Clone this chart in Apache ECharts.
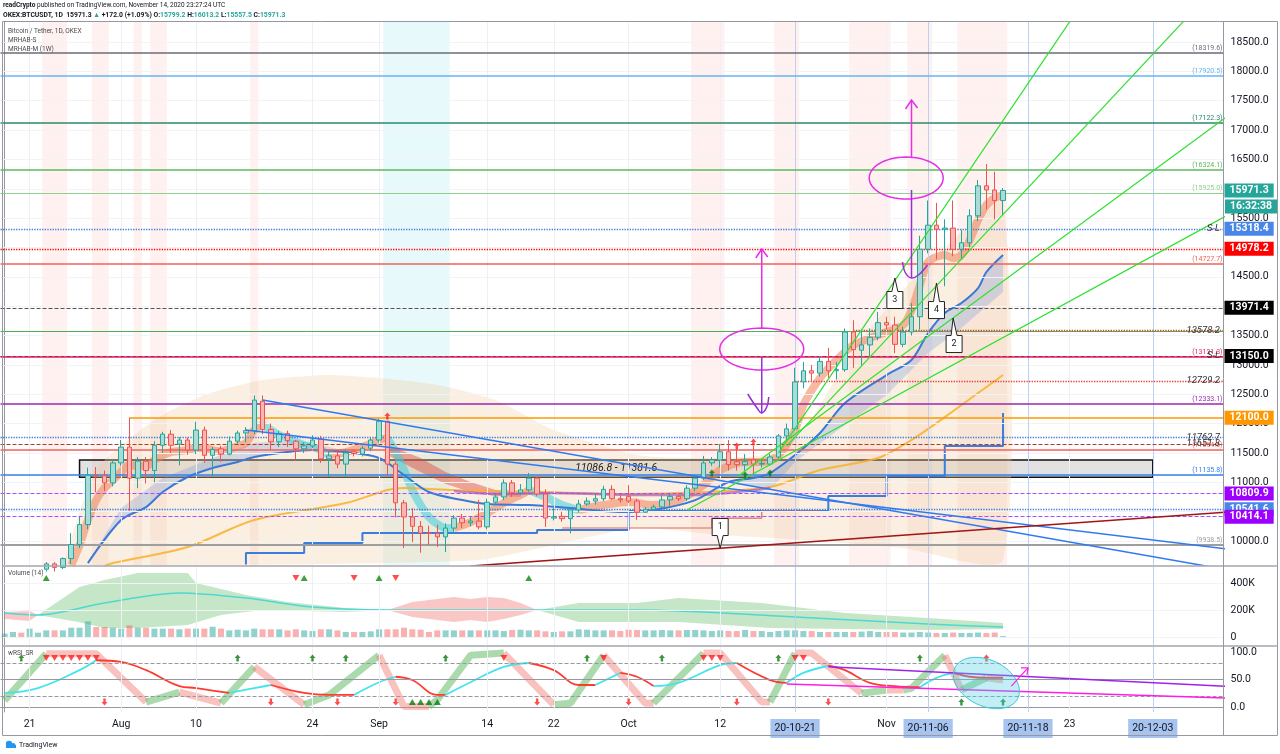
<!DOCTYPE html>
<html>
<head>
<meta charset="utf-8">
<script src="https://cdn.jsdelivr.net/npm/echarts@6/dist/echarts.min.js"></script>
<style>
html,body{margin:0;padding:0;background:#fff;}
#c{width:1280px;height:754px;}
</style>
</head>
<body>
<div id="c"></div>
<script>
// ================= DATA =================
const dayCount = 147; // Jul 18 .. Dec 11 (OKEX daily bars, UTC+8 labels)
// candles Jul 18 .. Nov 15
const opens = [9150,9170,9210,9160,9380,9520,9610,9550,9700,9940,
 10280,11120,11110,10990,11330,11600,11070,11360,11200,11630,
 11820,11650,11720,11550,11890,11460,11570,11480,11700,11840,
 11880,12380,11900,11690,11830,11700,11570,11620,11740,11400,
 11450,11310,11520,11480,11580,11720,12040,11310,10650,10410,
 10250,10135,10130,10070,10220,10390,10310,10340,10240,10660,
 10750,10990,10820,10870,11070,10800,10390,10420,10380,10530,
 10630,10680,10720,10880,10720,10760,10680,10490,10540,10580,
 10700,10760,10720,10900,11070,11330,11380,11520,11350,11300,
 11380,11310,11310,11430,11790,11910,12710,12900,12860,13060,
 12900,12920,13560,13250,13340,13470,13720,13680,13350,13560,
 13820,14970,15380,15310,15330,14970,15080,15540,16050,15980,
 15799.2];
const closes = [9170,9210,9160,9380,9520,9610,9550,9700,9940,10280,
 11120,11110,10990,11330,11600,11070,11360,11200,11630,11820,
 11630,11720,11550,11890,11460,11560,11480,11700,11840,11880,
 12400,11900,11690,11830,11710,11570,11620,11720,11400,11450,
 11310,11500,11490,11580,11720,12040,11310,10650,10410,10250,
 10135,10130,10070,10220,10390,10310,10340,10240,10660,10750,
 10990,10820,10870,11070,10800,10390,10410,10380,10530,10630,
 10680,10720,10880,10720,10700,10680,10490,10540,10580,10700,
 10760,10720,10900,11070,11330,11380,11520,11300,11300,11350,
 11310,11320,11430,11790,11910,12710,12900,12860,13060,12900,
 12920,13560,13260,13340,13470,13720,13680,13350,13560,13820,
 14970,15380,15310,15330,14970,15080,15540,16050,15980,15799.3,
 15971.3];
const lows = [9090,9110,9130,9150,9290,9480,9480,9520,9610,9880,
 10200,10830,10850,10930,11280,10510,10900,10980,11000,11500,
 11500,11290,11470,11480,11330,11100,11350,11460,11660,11680,
 11820,11820,11560,11600,11600,11370,11500,11580,11330,11090,
 11240,11090,11440,11440,11530,11680,11120,10400,9880,9980,
 9800,9930,9900,9810,10130,10220,10250,10200,10200,10620,
 10700,10750,10780,10840,10760,10240,10350,10330,10130,10480,
 10600,10620,10680,10700,10650,10650,10360,10480,10510,10560,
 10600,10680,10680,10850,11040,11280,11250,11200,11200,11200,
 11150,11250,11280,11400,11700,11880,12600,12720,12800,12780,
 12750,12880,12950,13000,13150,13420,13600,13200,13300,13500,
 13600,14900,14800,14340,14850,14790,15000,15450,15650,15480,
 15557.5];
const highs = [9220,9240,9230,9420,9540,9640,9640,9720,10135,10410,
 11250,11260,11200,11380,11720,12100,11430,11430,11700,11860,
 11890,11770,11760,12030,11950,11600,11620,11780,11880,11940,
 12480,12480,12000,11870,11880,11720,11680,11800,11790,11530,
 11550,11560,11560,11620,11760,12080,12050,11360,10700,10560,
 10340,10260,10280,10300,10440,10460,10420,10700,10720,10800,
 11050,11040,10970,11160,11100,10880,10560,10500,10580,10700,
 10740,10790,10940,10950,10790,10950,10720,10580,10620,10780,
 10800,10800,10950,11120,11450,11430,11650,11720,11560,11480,
 11620,11380,11480,11820,12000,12950,13050,13000,13150,13290,
 13050,13620,13760,13600,13620,13900,13820,13820,13650,14050,
 15200,15800,15760,15480,15800,15300,15650,16150,16420,16290,
 16013.2];
const volumesK = [25,37,32,62,32,49,49,49,69,69,116,74,74,69,
 62,86,69,69,62,62,62,57,62,62,62,76,62,49,54,49,62,57,57,57,49,57,49,44,57,57,49,37,37,37,42,
 57,57,57,69,57,54,37,49,49,49,49,49,49,49,49,44,52,54,49,49,42,37,42,42,57,54,49,49,49,44,
 54,52,49,49,52,49,49,52,52,49,44,49,44,44,52,44,44,37,44,49,49,44,44,37,37,37,37,37,40,44,37,
 37,37,33,33,37,33,30,30,33,30,30,33,30,33,7];

const xTickLabels = {'7-21':'21','8-1':'Aug','8-10':'10','8-24':'24','9-1':'Sep','9-14':'14','9-22':'22','10-1':'Oct','10-12':'12','11-1':'Nov','11-23':'23'};
const xHighlightLabels = {'10-21':'20-10-21','11-6':'20-11-06','11-18':'20-11-18','12-3':'20-12-03'};
const priceTicks = [10000,11000,11500,12000,12500,13000,13500,14500,15500,16500,17000,17500,18000,18500];
const priceGrid = [10000,10500,11000,11500,12000,12500,13000,13500,14000,14500,15000,15500,16000,16500,17000,17500,18000,18500];
const volTicks = [0,200,400];
const rsiTicks = [0,50,100];

// horizontal levels
const levelPrices = [18319.6,17920.5,17122.3,16324.1,15925.0,15318.4,14978.2,14727.7,13971.4,13578.2,13590.0,13150.0,13131.3,12729.2,12333.1,12100.0,11762.7,11651.8,11554.6,11135.8,10809.9,10541.6,10414.1,9938.5];
const levelFrom   = [null,null,null,null,null,null,null,null,null,null,'10-28',null,null,'10-21',null,'8-2',null,null,null,null,null,null,null,null];
const lastPrice = 15971.3;
const countdownText = '16:32:38';
const zoneLow = 11086.8, zoneHigh = 11381.6, zoneFrom = '7-27', zoneTo = '12-3';

// trend lines [date, price]
const blueTrendA = [['8-18',12401],['12-12',9509]];
const blueTrendB = [['8-16',11890],['12-12',9863]];
const redTrend   = [['9-12',9573],['12-12',10493]];
const fanLines = [
 [['10-19',11498],['11-24',19053]],
 [['10-20',11617],['12-12',19658]],
 [['10-14',11090],['12-12',17239]],
 [['10-8',10527],['12-12',15553]]
];

// indicator curves on price pane
const ribbonUp = [
 [['7-26',9590],['7-27',9931],['7-28',10357],['7-29',10697],['7-30',10902],['7-31',11039],['8-1',11175],['8-2',11294],['8-3',11277],['8-4',11277],['8-5',11379],['8-6',11464],['8-7',11515],['8-8',11532],['8-9',11549],['8-10',11584],['8-11',11584],['8-12',11549],['8-13',11532],['8-14',11567],['8-15',11618],['8-16',11669],['8-17',11890],['8-18',11975]],
 [['8-26',11464],['8-28',11515],['8-30',11601],['9-1',11720],['9-2',11754]],
 [['9-10',10221],['9-12',10323],['9-14',10476],['9-16',10646],['9-18',10783],['9-19',10868]],
 [['9-25',10527],['9-28',10612],['10-1',10663],['10-4',10612],['10-7',10697],['10-10',10953],['10-12',11209],['10-15',11345],['10-17',11345],['10-19',11464],['10-21',11890],['10-22',12316],['10-24',12776],['10-26',13083],['10-28',13338],['10-30',13457],['11-1',13560],['11-3',13679],['11-4',13934],['11-5',14360],['11-6',14752],['11-8',14871],['11-9',14820],['11-10',14871],['11-11',15126],['11-12',15467],['11-13',15723],['11-14',15842],['11-15',15894]]
];
const ribbonDown = [
 [['8-18',11975],['8-19',11890],['8-20',11805],['8-21',11754],['8-22',11686],['8-23',11635],['8-24',11601],['8-25',11549],['8-26',11464]],
 [['9-2',11754],['9-3',11515],['9-4',11209],['9-5',10868],['9-6',10612],['9-7',10408],['9-8',10289],['9-9',10221],['9-10',10221]],
 [['9-19',10868],['9-21',10749],['9-23',10612],['9-25',10527]]
];
const blueMA = [['7-28',9624],['8-1',10357],['8-4',10578],['8-6',10834],['8-9',11090],['8-12',11243],['8-15',11345],['8-17',11430],['8-21',11515],['8-24',11549],['8-28',11515],['9-1',11414],['9-4',11124],['9-7',10834],['9-11',10697],['9-14',10629],['9-19',10612],['9-24',10561],['9-30',10493],['10-4',10527],['10-9',10697],['10-13',11005],['10-16',11073],['10-18',11158],['10-21',11464],['10-24',11839],['10-27',12350],['11-1',12827],['11-4',13083],['11-6',13543],['11-8',13883],['11-10',14054],['11-12',14309],['11-13',14582],['11-15',14871]];
const blueBandLeftUpper = [['7-28',9624],['8-1',10561],['8-6',11073],['8-12',11414],['8-17',11669],['8-22',11720],['8-26',11601],['8-31',11430]];
const blueBandLeftLower = [['7-28',9624],['8-1',10357],['8-4',10578],['8-6',10834],['8-9',11090],['8-12',11243],['8-15',11345],['8-17',11430],['8-21',11515],['8-24',11549],['8-28',11515],['8-31',11430]];
const blueBandRightUpper = [['10-13',11005],['10-16',11073],['10-18',11158],['10-21',11464],['10-24',11839],['10-27',12350],['11-1',12827],['11-4',13083],['11-6',13543],['11-8',13883],['11-10',14054],['11-12',14309],['11-13',14582],['11-15',14871]];
const blueBandRightLower = [['10-13',11005],['10-18',10868],['10-21',11345],['10-27',11975],['11-1',12486],['11-6',13202],['11-10',13628],['11-15',14241]];
const orangeMA = [['7-30',9573],['7-31',9624],['8-9',9897],['8-17',10357],['8-28',10646],['9-2',10868],['9-4',10902],['9-10',10868],['9-20',10834],['10-1',10800],['10-10',10834],['10-18',10919],['10-24',11209],['10-31',11414],['11-4',11720],['11-8',12111],['11-12',12520],['11-15',12827]];
const purpleMA = [['9-10',10851],['9-15',10800],['9-22',10817],['10-2',10783],['10-9',10783],['10-18',10902]];
const redBandUpper = [['9-2',11635],['9-6',11414],['9-9',11175],['9-12',11005],['9-15',10868],['9-18',10800]];
const redBandLower = [['9-2',11464],['9-6',11175],['9-9',10970],['9-12',10834],['9-15',10766],['9-18',10749]];
const blueStep = [['8-16',9600],['8-16',9795],['8-23',9795],['8-23',9966],['8-30',9966],['8-30',10135],['9-20',10135],['9-20',10187],['10-1',10187],['10-1',10510],['10-25',10510],['10-25',10765],['11-1',10765],['11-1',11107],['11-8',11107],['11-8',11618],['11-15',11618],['11-15',12180]];
const redStep = [['9-23',10221],['10-11',10221],['10-11',10391],['10-17',10391],['10-17',10510],['10-24',10510]];
const cloudUpper = [['7-25',9590],['7-29',11209],['8-5',12061],['8-11',12486],['8-18',12742],['8-26',12827],['9-1',12776],['9-8',12657],['9-15',12401],['9-22',11890],['10-2',11464],['10-9',11414],['10-17',11464],['10-22',11890],['10-28',13253],['11-3',14275],['11-9',15126],['11-15',15808]];
const cloudLower = [['7-25',9590],['8-18',9595],['9-13',9676],['9-22',9931],['10-2',10221],['10-12',10102],['10-22',10017],['11-3',9880],['11-15',9676]];
const pinkBands = [['7-23','7-25'],['7-29','7-30'],['8-3','8-3'],['8-5','8-6'],['8-17','8-17'],['10-9','10-12'],['10-19','10-21'],['10-28','11-1'],['11-4','11-6'],['11-10','11-15']];
const cyanBands = [['9-2','9-9']];
const rangeDates = ['10-21','11-6','11-18','12-3'];
const mainRedPins = [['9-2',12129],['10-14',11618],['10-16',11686]];
const mainGreenPins = [['10-11',11158],['10-15',11124],['10-18',11158]];

// volume pane (K)
const volMA = [['7-18',178],['7-22',163],['7-30',252],['8-8',326],['8-16',289],['8-24',222],['9-2',200],['10-2',200],['10-21',148],['11-6',96],['11-15',74]];
const volBands = [
 {kind:'down', up:[['7-18',185],['7-21',193],['7-22',163]], lo:[['7-18',133],['7-21',118],['7-22',163]]},
 {kind:'up', up:[['7-22',163],['7-27',370],['7-30',422],['8-3',474],['8-9',474],['8-10',400],['8-16',311],['8-21',259],['8-28',215],['9-2',200]], lo:[['7-22',163],['7-27',110],['7-30',67],['8-3',67],['8-9',89],['8-13',163],['8-18',200],['8-28',185],['9-2',200]]},
 {kind:'down', up:[['9-2',200],['9-5',259],['9-8',281],['9-10',296],['9-12',281],['9-14',296],['9-16',289],['9-18',252],['9-20',200]], lo:[['9-2',200],['9-5',148],['9-8',126],['9-10',111],['9-12',126],['9-14',111],['9-16',133],['9-18',163],['9-20',200]]},
 {kind:'up', up:[['9-20',200],['9-25',252],['10-2',252],['10-7',289],['10-17',252],['10-27',178],['11-6',141],['11-15',104]], lo:[['9-20',200],['9-25',111],['10-2',111],['10-7',111],['10-18',67],['11-6',52],['11-15',59]]}
];
const volUpMarks = ['7-23','8-23','9-1','9-19'];
const volDownMarks = ['8-22','8-29','9-3'];

// wRSI pane
const rsiFast = [['7-18',12],['7-23',97],['7-29',97],['8-4',9],['8-8',27],['8-13',7],['8-17',73],['8-23',4],['8-26',22],['9-1',94],['9-4',1],['9-7',1],['9-8',13],['9-12',94],['9-16',98],['9-22',4],['9-24',7],['9-28',94],['10-3',7],['10-4',7],['10-10',98],['10-12',98],['10-17',9],['10-18',9],['10-21',98],['10-23',98],['10-29',25],['11-1',31],['11-3',31],['11-4',34],['11-8',94],['11-10',31],['11-13',53],['11-15',49]];
const rsiSlow = [['7-18',25.5],['7-22',34.5],['7-27',67],['7-29',85],['8-1',82],['8-4',67],['8-8',38],['8-10',34.5],['8-14',25.5],['8-17',34.5],['8-19',40],['8-23',25.5],['8-26',22],['8-29',22],['9-1',45],['9-3',55],['9-5',49],['9-8',22],['9-9',22],['9-12',45],['9-16',73],['9-19',80],['9-22',67],['9-25',40],['9-27',40],['9-30',62],['10-2',55],['10-4',38],['10-7',44],['10-12',76],['10-14',80],['10-18',49],['10-20',44],['10-22',62],['10-25',75],['10-27',67],['10-30',44],['11-2',38],['11-5',36],['11-7',53],['11-9',62],['11-11',55],['11-13',53],['11-15',53]];
const rsiLevels = [80, 50, 20];
const rsiPurpleTrend = [['10-25',73],['12-12',37.6]];
const rsiMagentaTrend = [['10-20',41.8],['12-12',16.2]];
const rsiGreenPinsTop = ['7-20','8-15','8-24','8-28','9-9','9-26','10-5','10-19','11-5'];
const rsiRedTrianglesTop = ['7-23','7-24','7-25','7-26','7-27','7-28','7-29','9-16','9-28','10-10','10-11','10-12','10-21','10-22'];
const rsiRedPinsTop = ['11-13'];
const rsiRedPinsBottom = ['7-30','8-19','8-27','9-3','9-20','10-1','10-14','10-25'];
const rsiGreenTrianglesBottom = ['9-5','9-6','9-7','9-8'];
const rsiGreenPinsBottom = ['11-10','11-15'];

// annotations (data anchored)
const annEllipses = [['10-17',13270],['11-3',16183]];
const annUpArrows = [['10-17',13628,14974],['11-4',16541,17512]];
const annDownArrows = [['10-17',13134,12180],['11-4',15979,14480]];
const callouts = [['1','10-12',9880],['2','11-9',13798],['3','11-2',14480],['4','11-7',14394]];
const rsiEllipse = ['11-13',43.6];
const rsiArrow = [['11-16',38],['11-18',71]];

// ================= HELPERS =================
const FONT = 'Roboto, "Liberation Sans", sans-serif';
const D0 = Date.UTC(2020,6,18);
function di(s){ const p = s.split('-').map(Number); return Math.round((Date.UTC(2020,p[0]-1,p[1]) - D0)/864e5); }
const categories = [];
for (let i=0;i<dayCount;i++){ const t = new Date(D0 + i*864e5); categories.push((t.getUTCMonth()+1)+'-'+t.getUTCDate()); }
const P = pts => pts.map(p => [di(p[0]), p[1]]);

function lineS(xi, yi, pts, color, width, z, extra){
  return Object.assign({type:'line', xAxisIndex:xi, yAxisIndex:yi, data:P(pts), symbol:'none', silent:true,
    lineStyle:{color:color, width:width}, z:z}, extra||{});
}
function polyS(xi, yi, upper, lower, fill, z, smooth){
  return {type:'custom', xAxisIndex:xi, yAxisIndex:yi, z:z, silent:true, data:[[0,0]],
    renderItem:function(params, api){
      const a = upper.map(p => api.coord([di(p[0]), p[1]]));
      const b = lower.map(p => api.coord([di(p[0]), p[1]])).reverse();
      return {type:'polygon', shape:{points:a.concat(b), smooth:smooth||0}, style:{fill:fill}};
    }};
}
function runs(pts){
  const out=[]; let cur=[pts[0]], dir=null;
  for (let i=1;i<pts.length;i++){
    const d = pts[i][1] > pts[i-1][1] ? 1 : -1;
    if (dir===null || d===dir){ cur.push(pts[i]); dir=d; }
    else { out.push({dir:dir, pts:cur}); cur=[pts[i-1], pts[i]]; dir=d; }
  }
  out.push({dir:dir, pts:cur});
  return out;
}
const upArrowPath = 'path://M5,0 L10,5 L7,5 L7,10 L3,10 L3,5 L0,5 Z';
function marks(xi, yi, dates, val, symbol, color, size, rot, z){
  return {type:'scatter', xAxisIndex:xi, yAxisIndex:yi, silent:true, z:z||9,
    data:dates.map(d => Array.isArray(d) ? [di(d[0]), d[1]] : [di(d), val]),
    symbol:symbol, symbolSize:size, symbolRotate:rot||0, itemStyle:{color:color}};
}

// ================= OPTION =================
const levelStyles = [
 {c:'#6a6d78', w:1.5, t:'solid', m:'paren'},
 {c:'#64b5f6', w:1.5, t:'solid', m:'paren'},
 {c:'#2a8a6e', w:1.5, t:'solid', m:'paren'},
 {c:'#5cb85c', w:1.5, t:'solid', m:'paren'},
 {c:'#8fd18f', w:1, t:'solid', m:'paren'},
 {c:'#3d7be0', w:1.3, t:'dotted', m:'tag', bg:'#4a86e8'},
 {c:'#ff0000', w:1.3, t:'dotted', m:'tag', bg:'#ff0000'},
 {c:'#f0625a', w:1.5, t:'solid', m:'paren'},
 {c:'#555555', w:1, t:'dashed', m:'tag', bg:'#000000'},
 {c:'#4caf50', w:1, t:'solid', m:'text'},
 {c:'#e53935', w:1.3, t:'dotted', m:'none'},
 {c:'#222222', w:1, t:'dashed', m:'tag', bg:'#000000'},
 {c:'#e91e63', w:1.5, t:'solid', m:'paren'},
 {c:'#e53935', w:1.3, t:'dotted', m:'text'},
 {c:'#9c27b0', w:1.5, t:'solid', m:'paren'},
 {c:'#ff9800', w:1.5, t:'solid', m:'tag', bg:'#ff9800'},
 {c:'#3d7be0', w:1.3, t:'dotted', m:'text'},
 {c:'#b03a2e', w:1, t:'dashed', m:'text'},
 {c:'#f0625a', w:1.5, t:'solid', m:'paren'},
 {c:'#2f80ed', w:1.5, t:'solid', m:'paren'},
 {c:'#a64dff', w:1, t:'dashed', m:'tag', bg:'#9d00ff'},
 {c:'#3d7be0', w:1.3, t:'dotted', m:'tag', bg:'#4a86e8'},
 {c:'#a64dff', w:1, t:'dashed', m:'tag', bg:'#9d00ff'},
 {c:'#9e9e9e', w:2, t:'solid', m:'paren'}
];
const tagLabel = (txt, bg) => ({show:true, position:'end', formatter:txt, color:'#fff', backgroundColor:bg,
  padding:[2,5,1,5], fontSize:10.5, fontWeight:'bold', distance:1, fontFamily:FONT});

const levelML = levelPrices.map((v,i) => {
  const s = levelStyles[i];
  const ls = {color:s.c, width:s.w, type:s.t};
  let label = {show:false};
  if (s.m==='paren') label = {show:true, position:'insideEndTop', formatter:'('+v.toFixed(1)+')', color:s.c, fontSize:7, distance:1, fontFamily:FONT};
  if (s.m==='tag') label = tagLabel(v.toFixed(1), s.bg);
  if (levelFrom[i]) return [{coord:[di(levelFrom[i]), v], lineStyle:ls, label:label}, {coord:[146.5, v]}];
  return {yAxis:v, lineStyle:ls, label:label};
});
levelML.push({yAxis:lastPrice, lineStyle:{color:'rgba(0,0,0,0)', width:0.1}, label:tagLabel(lastPrice.toFixed(1), '#26a69a')});

const gridDates = Object.keys(xTickLabels);
const vGrid = gridDates.map(d => ({xAxis:di(d), lineStyle:{color:'#eef0f5', width:1, type:'solid'}}))
  .concat(rangeDates.map(d => ({xAxis:di(d), lineStyle:{color:'#bcd0f2', width:1, type:'solid'}})));

const series = [];
// background bands & grid
series.push({id:'anchor0', type:'line', xAxisIndex:3, yAxisIndex:0, data:[], z:0, silent:true,
  markArea:{silent:true, data: pinkBands.map(b => [{xAxis:di(b[0])-0.5, itemStyle:{color:'rgba(244,67,54,0.075)'}}, {xAxis:di(b[1])+0.5}])
    .concat(cyanBands.map(b => [{xAxis:di(b[0])-0.5, itemStyle:{color:'rgba(0,188,212,0.09)'}}, {xAxis:di(b[1])+0.5}]))},
  markLine:{silent:true, symbol:['none','none'], label:{show:false},
    data: priceGrid.map(v => ({yAxis:v, lineStyle:{color:'#f1f3f7', width:1, type:'solid'}})).concat(vGrid)}
});
series.push(polyS(3,0, cloudUpper, cloudLower, 'rgba(240,205,160,0.32)', 1, 0.2));
series.push(polyS(3,0, blueBandLeftUpper, blueBandLeftLower, 'rgba(90,140,220,0.25)', 2));
series.push(polyS(3,0, blueBandRightUpper, blueBandRightLower, 'rgba(90,140,220,0.25)', 2));
series.push(polyS(3,0, redBandUpper, redBandLower, 'rgba(225,70,60,0.45)', 2));
ribbonUp.forEach(r => series.push(lineS(3,0, r, 'rgba(238,130,90,0.55)', 8, 3, {smooth:0.3})));
ribbonDown.forEach(r => series.push(lineS(3,0, r, 'rgba(60,205,220,0.55)', 8, 3, {smooth:0.3})));
series.push(lineS(3,0, orangeMA, 'rgba(248,176,40,0.85)', 2, 3, {smooth:0.3}));
series.push(lineS(3,0, purpleMA, 'rgba(171,90,190,0.7)', 2.5, 3, {smooth:0.3}));
series.push(lineS(3,0, blueMA, '#3b78d8', 2, 4, {smooth:0.3}));
series.push(lineS(3,0, blueStep, '#3b7ddd', 2, 4));
series.push(lineS(3,0, redStep, '#e06666', 1.2, 4));
// candles
series.push({type:'candlestick', xAxisIndex:0, yAxisIndex:0, z:5, silent:true, barWidth:5,
  data: opens.map((o,i) => [o, closes[i], lows[i], highs[i]]),
  itemStyle:{color:'#a9dcd6', color0:'#f8b6b4', borderColor:'#26a69a', borderColor0:'#ef5350', borderWidth:1}});
// zone box
series.push({type:'line', xAxisIndex:3, yAxisIndex:0, data:[], z:6, silent:true,
  markArea:{silent:true, data:[[{coord:[di(zoneFrom), zoneHigh], itemStyle:{color:'rgba(150,150,150,0.28)', borderColor:'#111', borderWidth:1.5},
     label:{show:true, position:'inside', formatter: zoneLow.toFixed(1)+' - '+zoneHigh.toFixed(1), fontStyle:'italic', fontSize:10.5, color:'#222', fontFamily:FONT}},
    {coord:[di(zoneTo), zoneLow]}]]}});
// levels
series.push({type:'line', xAxisIndex:3, yAxisIndex:0, data:[], z:7, silent:true,
  markLine:{silent:true, symbol:['none','none'], data:levelML}});
// trend lines
series.push(lineS(3,0, blueTrendA, '#3179f0', 1.5, 7));
series.push(lineS(3,0, blueTrendB, '#3179f0', 1.5, 7));
series.push(lineS(3,0, redTrend, '#a31515', 1.5, 7));
fanLines.forEach(f => series.push(lineS(3,0, f, '#2ee02e', 1.2, 7)));
series.push(marks(3,0, mainRedPins, 0, upArrowPath, '#ff1f1f', [6,7]));
series.push(marks(3,0, mainGreenPins, 0, upArrowPath, '#0a7a0a', [6,7]));

// ---- volume pane ----
series.push({id:'anchor1', type:'line', xAxisIndex:4, yAxisIndex:1, data:[], silent:true,
  markLine:{silent:true, symbol:['none','none'], label:{show:false},
   data: volTicks.map(v => ({yAxis:v, lineStyle:{color:'#f1f3f7', width:1, type:'solid'}})).concat(vGrid)}});
volBands.forEach(b => series.push(polyS(4,1, b.up, b.lo, b.kind==='up' ? 'rgba(129,199,132,0.45)' : 'rgba(244,130,130,0.45)', 2)));
series.push({type:'bar', xAxisIndex:1, yAxisIndex:1, barWidth:6, silent:true, z:3,
  data: volumesK.map((v,i) => ({value:v, itemStyle:{color: closes[i]>=opens[i] ? 'rgba(38,166,154,0.5)' : 'rgba(239,83,80,0.45)'}}))});
series.push(lineS(4,1, volMA, '#4dd9d0', 1.5, 4, {smooth:0.3}));
series.push(marks(4,1, volUpMarks, 437, 'triangle', '#0a8a0a', [7,6]));
series.push(marks(4,1, volDownMarks, 437, 'triangle', '#ff1f1f', [7,6], 180));

// ---- wRSI pane ----
series.push({id:'anchor2', type:'line', xAxisIndex:5, yAxisIndex:2, data:[], silent:true,
  markLine:{silent:true, symbol:['none','none'], label:{show:false},
   data: rsiLevels.map(v => ({yAxis:v, lineStyle:{color:'#9598a1', width:1, type: v===50 ? 'solid' : 'dashed'}})).concat(vGrid)}});
runs(rsiFast).forEach(r => series.push(lineS(5,2, r.pts, r.dir>0 ? 'rgba(102,187,106,0.55)' : 'rgba(244,120,110,0.45)', 7, 3)));
runs(rsiSlow).forEach(r => series.push(lineS(5,2, r.pts, r.dir>0 ? '#44e4ee' : '#ff3b30', 1.8, 4, {smooth:0.4})));
series.push(lineS(5,2, rsiPurpleTrend, '#a020f0', 1.5, 5));
series.push(lineS(5,2, rsiMagentaTrend, '#ff1ee6', 1.5, 5));
series.push(marks(5,2, rsiGreenPinsTop, 89, upArrowPath, '#0a7a0a', [6,7]));
series.push(marks(5,2, rsiRedTrianglesTop, 89, 'triangle', '#ff1f1f', [7,6], 180));
series.push(marks(5,2, rsiRedPinsTop, 89, upArrowPath, '#ff1f1f', [6,7]));
series.push(marks(5,2, rsiRedPinsBottom, 9, upArrowPath, '#ff1f1f', [6,7], 180));
series.push(marks(5,2, rsiGreenTrianglesBottom, 9, 'triangle', '#0a7a0a', [7,6]));
series.push(marks(5,2, rsiGreenPinsBottom, 9, upArrowPath, '#0a7a0a', [6,7]));

const catAxis = (gi, show) => ({type:'category', gridIndex:gi, data:categories, boundaryGap:true,
  axisLine:{show:show, lineStyle:{color:'#9598a1'}}, axisTick:{show:false}, splitLine:{show:false},
  axisLabel: show ? {
    interval:(i, v) => (v in xTickLabels) || (v in xHighlightLabels),
    formatter: v => xHighlightLabels[v] ? '{hl|'+xHighlightLabels[v]+'}' : xTickLabels[v],
    color:'#131722', fontSize:10.5, margin:7, fontFamily:FONT,
    rich:{hl:{backgroundColor:'#a7c3ef', padding:[4,4,4,4], color:'#131722', fontSize:10.5, fontFamily:FONT}}
  } : {show:false}});
const valX = gi => ({type:'value', gridIndex:gi, min:-0.5, max:146.5, show:false});
const yAx = (gi, min, max, ticks, fmt) => ({type:'value', gridIndex:gi, position:'right', min:min, max:max,
  axisLine:{show:true, lineStyle:{color:'#9598a1'}}, axisTick:{show:false}, splitLine:{show:false},
  axisLabel:{customValues:ticks, formatter:fmt, color:'#131722', fontSize:10.5, margin:7, fontFamily:FONT}});

const option = {
  animation:false,
  backgroundColor:'#ffffff',
  textStyle:{fontFamily:FONT},
  grid:[{left:0.5, right:56.5, top:22, height:543},{left:0.5, right:56.5, top:567, height:78},{left:0.5, right:56.5, top:647, height:65}],
  xAxis:[catAxis(0,false), catAxis(1,false), catAxis(2,true), valX(0), valX(1), valX(2)],
  yAxis:[
    yAx(0, 9591, 18841, priceTicks, v => v.toFixed(1)),
    yAx(1, -59.3, 518.5, volTicks, v => v===0 ? '0' : v+'K'),
    yAx(2, -9.1, 109.1, rsiTicks, v => v.toFixed(1))
  ],
  series:series
};

const chart = echarts.init(document.getElementById('c'));
chart.setOption(option);

// ================= GRAPHICS / ANNOTATIONS =================
function px(pane, d, v){ return chart.convertToPixel({seriesId:'anchor'+pane}, [di(d), v]); }
function ellipsePts(cx, cy, rx, ry, rot){
  const pts=[]; for (let k=0;k<60;k++){ const t=k/60*2*Math.PI; const x=rx*Math.cos(t), y=ry*Math.sin(t);
    pts.push([cx + x*Math.cos(rot) - y*Math.sin(rot), cy + x*Math.sin(rot) + y*Math.cos(rot)]); } return pts;
}
const G = [];
const txt = (x, y, text, opt) => G.push({type:'text', x:x, y:y, z:60, silent:true,
  style:Object.assign({text:text, fill:'#131722', fontSize:6.5, fontFamily:FONT, verticalAlign:'middle', align:'left'}, opt||{})});
// header
G.push({type:'text', x:3, y:5, z:60, style:{text:'{b|readCrypto}{n| published on TradingView.com, November 14, 2020 23:27:24 UTC}', verticalAlign:'middle',
  rich:{b:{fontWeight:'bold', fontSize:6.5, fontFamily:FONT, fill:'#131722'}, n:{fontSize:6.5, fontFamily:FONT, fill:'#131722'}}}});
G.push({type:'text', x:3, y:15, z:60, style:{text:'{b|OKEX:BTCUSDT, 1D  15971.3 }{g|▲}{b| +172.0 (+1.09%) O:}{g|15799.2}{b| H:}{g|16013.2}{b| L:}{g|15557.5}{b| C:}{g|15971.3}', verticalAlign:'middle',
  rich:{b:{fontWeight:'bold', fontSize:6.8, fontFamily:FONT, fill:'#131722'}, g:{fontWeight:'bold', fontSize:6.8, fontFamily:FONT, fill:'#26a69a'}}}});
txt(8, 31, 'Bitcoin / Tether, 1D, OKEX', {fill:'#4a4a4a'});
txt(8, 40, 'MRHAB-S', {fill:'#4a4a4a'});
txt(8, 49, 'MRHAB-M (1W)', {fill:'#4a4a4a'});
txt(8, 573, 'Volume (14)', {fill:'#4a4a4a'});
txt(8, 653, 'wRSI_SR', {fill:'#4a4a4a'});
// frame
G.push({type:'rect', z:55, silent:true, shape:{x:2.5, y:21.5, width:1275, height:714}, style:{fill:'none', stroke:'#9598a1', lineWidth:1}});
G.push({type:'line', z:55, silent:true, shape:{x1:2.5, y1:566, x2:1277.5, y2:566}, style:{stroke:'#a3a6ae', lineWidth:1.5}});
G.push({type:'line', z:55, silent:true, shape:{x1:2.5, y1:646, x2:1277.5, y2:646}, style:{stroke:'#a3a6ae', lineWidth:1.5}});
G.push({type:'line', z:55, silent:true, shape:{x1:1223.5, y1:21.5, x2:1223.5, y2:735.5}, style:{stroke:'#9598a1', lineWidth:1}});
// logo
G.push({type:'circle', z:60, shape:{cx:9, cy:744, r:3.2}, style:{fill:'#2196f3'}});
G.push({type:'circle', z:60, shape:{cx:13, cy:745.5, r:2.5}, style:{fill:'#2196f3'}});
G.push({type:'rect', z:60, shape:{x:6, y:745, width:10, height:3}, style:{fill:'#2196f3'}});
txt(19, 745, 'TradingView', {fontSize:7, fill:'#131722'});

// text labels on levels
levelPrices.forEach((v,i) => {
  if (levelStyles[i].m === 'text'){ const p = px(0, '12-11', v); txt(1220, p[1], v.toFixed(1), {align:'right', fontStyle:'italic', fontSize:9.5, fill:'#333'}); }
});
[15318.4, 13150.0].forEach(v => { const p = px(0,'12-11',v); txt(1220, p[1], 'S-L', {align:'right', fontStyle:'italic', fontSize:9.5, fill:'#333'}); });
// countdown tag
{ const p = px(0,'12-11', lastPrice); G.push({type:'text', x:1225, y:p[1]+16, z:60, style:{text:countdownText, fill:'#fff', fontSize:10.5, fontWeight:'bold', fontFamily:FONT,
   backgroundColor:'#26a69a', padding:[2,5,1,5], verticalAlign:'middle'}}); }

// magenta ellipses
const ellSize = [[42,21],[37,21]];
annEllipses.forEach((e,k) => { const c = px(0, e[0], e[1]); G.push({type:'polygon', z:62, silent:true,
  shape:{points:ellipsePts(c[0]+ (k===1?3:0), c[1], ellSize[k][0], ellSize[k][1], 0)}, style:{fill:'none', stroke:'#e62ee6', lineWidth:1.5}}); });
annUpArrows.forEach(a => { const p1 = px(0, a[0], a[1]), p2 = px(0, a[0], a[2]);
  G.push({type:'polyline', z:62, silent:true, shape:{points:[p1,p2]}, style:{stroke:'#e62ee6', lineWidth:1.5, fill:'none'}});
  G.push({type:'polyline', z:62, silent:true, shape:{points:[[p2[0]-6,p2[1]+9],[p2[0],p2[1]],[p2[0]+6,p2[1]+8]]}, style:{stroke:'#e62ee6', lineWidth:1.5, fill:'none'}}); });
annDownArrows.forEach((a,k) => { const p1 = px(0, a[0], a[1]), p2 = px(0, a[0], a[2]);
  G.push({type:'polyline', z:62, silent:true, shape:{points:[p1,p2]}, style:{stroke:'#9a2ed6', lineWidth:1.5, fill:'none'}});
  const hook = k===0 ? [[p2[0]-14,p2[1]-19],[p2[0]-4,p2[1]-4],[p2[0],p2[1]],[p2[0]+5,p2[1]-6],[p2[0]+7,p2[1]-16]]
                     : [[p2[0]-9,p2[1]-16],[p2[0]-6,p2[1]-5],[p2[0],p2[1]],[p2[0]+7,p2[1]-3],[p2[0]+16,p2[1]-13]];
  G.push({type:'polyline', z:62, silent:true, shape:{points:hook, smooth:0.4}, style:{stroke:'#9a2ed6', lineWidth:1.5, fill:'none'}}); });
// callouts
const calloutOff = {'1':-21, '2':26, '3':22, '4':27};
callouts.forEach(c => { const t = px(0, c[1], c[2]); const cx = t[0] + (c[0]==='2'?1:0), cy = t[1] + calloutOff[c[0]];
  const w=8, h=8.5; let pts;
  if (calloutOff[c[0]] < 0) pts = [[cx-w,cy-h],[cx+w,cy-h],[cx+w,cy+h],[cx+3,cy+h],[t[0],t[1]],[cx-3,cy+h],[cx-w,cy+h]];
  else pts = [[cx-w,cy-h],[cx-3,cy-h],[t[0],t[1]],[cx+3,cy-h],[cx+w,cy-h],[cx+w,cy+h],[cx-w,cy+h]];
  G.push({type:'polygon', z:63, silent:true, shape:{points:pts}, style:{fill:'#fff', stroke:'#222', lineWidth:1}});
  G.push({type:'text', z:64, silent:true, x:cx, y:cy, style:{text:c[0], fontSize:9, fontFamily:FONT, fill:'#222', align:'center', verticalAlign:'middle'}}); });
// RSI ellipse and arrow
{ const c = px(2, rsiEllipse[0], rsiEllipse[1]);
  G.push({type:'polygon', z:62, silent:true, shape:{points:ellipsePts(c[0], c[1], 35, 23, 0.45)}, style:{fill:'rgba(77,208,225,0.35)', stroke:'#3cc8da', lineWidth:1}});
  const a = px(2, rsiArrow[0][0], rsiArrow[0][1]), b = px(2, rsiArrow[1][0], rsiArrow[1][1]);
  G.push({type:'polyline', z:63, silent:true, shape:{points:[a,b]}, style:{stroke:'#ff1ee6', lineWidth:1.2, fill:'none'}});
  G.push({type:'polyline', z:63, silent:true, shape:{points:[[b[0]-7,b[1]],[b[0],b[1]],[b[0]-1,b[1]+7]]}, style:{stroke:'#ff1ee6', lineWidth:1.2, fill:'none'}}); }

chart.setOption({graphic:{elements:G}});
</script>
</body>
</html>
